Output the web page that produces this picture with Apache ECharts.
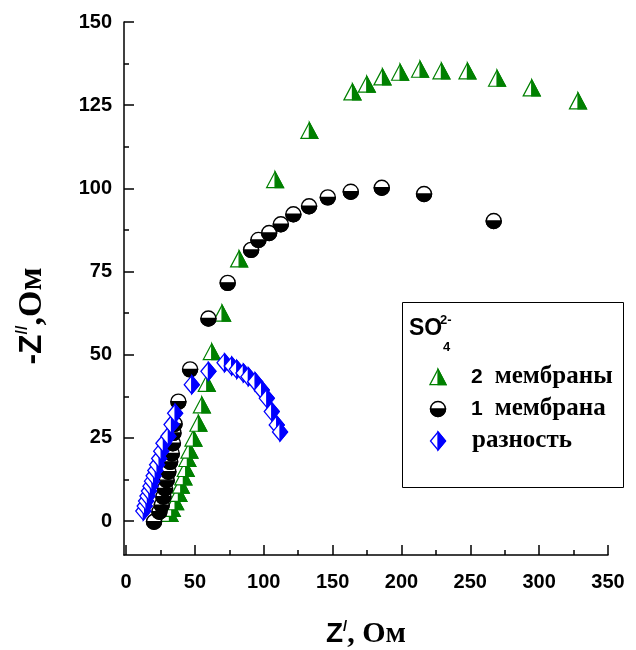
<!DOCTYPE html>
<html>
<head>
<meta charset="utf-8">
<script src="https://cdn.jsdelivr.net/npm/echarts@6/dist/echarts.min.js"></script>
<style>
  html, body { margin: 0; padding: 0; background: #fff; }
  #chart { width: 636px; height: 650px; }
</style>
</head>
<body>
<div id="chart"></div>
<script>
// Impedance spectra (Nyquist plot) for SO4(2-): Z' vs -Z'' in Ohm

// 2 membranes
const mem2Re = [31.5, 33.2, 35.6, 38.0, 39.7, 41.6, 43.3, 44.5, 46.0, 48.9, 52.5, 55.0, 58.6, 62.2,
                69.7, 82.1, 108.2, 133.1, 164.4, 174.8, 186.2, 199.0, 213.5, 229.0, 247.9, 269.4, 294.6, 328.2];
const mem2Im = [2.3, 3.8, 5.8, 8.3, 10.8, 13.3, 15.8, 18.8, 21.3, 24.9, 29.4, 34.9, 41.4, 50.9,
                62.5, 78.8, 102.6, 117.4, 129.0, 131.3, 133.5, 134.9, 135.8, 135.3, 135.3, 133.1, 130.2, 126.3];

// 1 membrane
const mem1Re = [20.3, 24.2, 25.9, 27.1, 28.3, 29.5, 30.7, 32.0, 33.2, 34.0, 34.4, 35.2, 38.0, 46.5,
                59.8, 73.8, 90.8, 96.1, 103.9, 112.4, 121.5, 132.9, 146.5, 163.2, 185.7, 216.4, 267.0];
const mem1Im = [-0.2, 2.8, 4.8, 7.3, 9.8, 12.3, 14.8, 17.8, 20.3, 23.4, 26.5, 29.2, 35.9, 45.6,
                60.9, 71.6, 81.5, 84.5, 86.6, 89.2, 92.2, 94.6, 97.3, 99.0, 100.2, 98.3, 90.2];

// difference
const diffRe = [12.5, 13.5, 14.5, 15.5, 16.6, 17.7, 18.8, 20.0, 21.2, 22.5, 24.0, 25.5, 27.1, 30.7, 33.0,
                35.6, 47.7, 59.8, 71.5, 76.7, 80.4, 85.2, 88.8, 93.7, 98.5, 102.2, 105.8, 109.4, 111.8];
const diffIm = [3.0, 4.5, 6.0, 7.5, 9.0, 10.5, 12.0, 13.6, 15.2, 16.9, 18.8, 21.0, 23.4, 25.5, 29.0,
                32.4, 41.0, 45.0, 47.6, 46.6, 45.6, 44.5, 43.4, 41.9, 39.4, 36.9, 32.9, 28.9, 26.8];

const seriesNames = ['2 мембраны', '1 мембрана', 'разность'];

const xMajor = [0, 50, 100, 150, 200, 250, 300, 350];
const xMinor = [25, 75, 125, 175, 225, 275, 325];
const yMajor = [0, 25, 50, 75, 100, 125, 150];
const yMinor = [12.5, 37.5, 62.5, 87.5, 112.5, 137.5];

const SANS = '"Liberation Sans", Arial, sans-serif';
const SERIF = '"Liberation Serif", "Times New Roman", serif';
const GREEN = '#008000';
const BLUE = '#0000ff';
const BLACK = '#000000';

function zip(a, b) { return a.map((v, i) => [v, b[i]]); }

// Half-filled marker shapes (outline with white fill, then one filled half)
function triangleMark(cx, cy, k) {
  const w = 8.5 * k, h = 8 * k;
  return [
    { type: 'polygon', shape: { points: [[cx - w, cy + h], [cx, cy - h], [cx + w, cy + h]] },
      style: { fill: '#fff', stroke: GREEN, lineWidth: 1.2 } },
    { type: 'polygon', shape: { points: [[cx, cy - h], [cx + w, cy + h], [cx, cy + h]] },
      style: { fill: GREEN, stroke: GREEN, lineWidth: 1.2 } }
  ];
}
function circleMark(cx, cy, k) {
  const r = 7.5 * k;
  return [
    { type: 'circle', shape: { cx: cx, cy: cy, r: r },
      style: { fill: '#fff', stroke: BLACK, lineWidth: 1.4 } },
    { type: 'sector', shape: { cx: cx, cy: cy, r0: 0, r: r, startAngle: 0, endAngle: Math.PI, clockwise: true },
      style: { fill: BLACK, stroke: BLACK, lineWidth: 1.4 } }
  ];
}
function diamondMark(cx, cy, k) {
  const w = 7.5 * k, h = 9 * k;
  return [
    { type: 'polygon', shape: { points: [[cx, cy - h], [cx + w, cy], [cx, cy + h], [cx - w, cy]] },
      style: { fill: '#fff', stroke: BLUE, lineWidth: 1.3 } },
    { type: 'polygon', shape: { points: [[cx, cy - h], [cx + w, cy], [cx, cy + h]] },
      style: { fill: BLUE, stroke: BLUE, lineWidth: 1.3 } }
  ];
}

function markerSeries(name, data, shapeFn) {
  return {
    type: 'custom',
    name: name,
    coordinateSystem: 'cartesian2d',
    xAxisIndex: 0,
    yAxisIndex: 0,
    encode: { x: 0, y: 1 },
    data: data,
    clip: false,
    renderItem: function (params, api) {
      const p = api.coord([api.value(0), api.value(1)]);
      return { type: 'group', children: shapeFn(p[0], p[1], 1) };
    }
  };
}

function onTop(items, z) { return items.map(el => Object.assign({ z: z }, el)); }

const tickStyle = { color: BLACK, width: 1.5 };
const labelStyle = { fontFamily: SANS, fontWeight: 'bold', fontSize: 20, color: BLACK };

// Legend box drawn as graphic elements
const legendX = 438, legendRows = [377, 409, 441], legendTextX = 471;
const legendRich = {
  n: { fontFamily: SANS, fontWeight: 'bold', fontSize: 21, color: BLACK, padding: [0, 12, 0, 0] },
  t: { fontFamily: SERIF, fontWeight: 'bold', fontSize: 25, color: BLACK }
};
const overlay = [
  { type: 'rect', shape: { x: 402.5, y: 302.5, width: 221, height: 185 },
    style: { fill: '#fff', stroke: BLACK, lineWidth: 1 }, z: 10 },
  { type: 'text', x: 409, y: 329, z: 11,
    style: { text: 'SO', font: 'bold 23px ' + SANS, fill: BLACK, verticalAlign: 'middle' } },
  { type: 'text', x: 440, y: 320, z: 11,
    style: { text: '2-', font: 'bold 13px ' + SANS, fill: BLACK, verticalAlign: 'middle' } },
  { type: 'text', x: 443, y: 347, z: 11,
    style: { text: '4', font: 'bold 13px ' + SANS, fill: BLACK, verticalAlign: 'middle' } }
]
  .concat(onTop(triangleMark(legendX, legendRows[0], 0.95), 12))
  .concat(onTop(circleMark(legendX, legendRows[1], 1), 12))
  .concat(onTop(diamondMark(legendX, legendRows[2], 1), 12))
  .concat([
    { type: 'text', x: legendTextX, y: legendRows[0], z: 11,
      style: { text: '{n|2}{t|мембраны}', rich: legendRich, verticalAlign: 'middle' } },
    { type: 'text', x: legendTextX, y: legendRows[1], z: 11,
      style: { text: '{n|1}{t|мембрана}', rich: legendRich, verticalAlign: 'middle' } },
    { type: 'text', x: legendTextX + 1, y: legendRows[2], z: 11,
      style: { text: '{t|разность}', rich: legendRich, verticalAlign: 'middle' } }
  ]);

// Rotated y-axis title
overlay.push({
  type: 'text', x: 32, y: 316, rotation: Math.PI / 2, z: 11,
  style: {
    text: '{a|-Z}{b|//}{c|,Ом}',
    align: 'center', verticalAlign: 'middle',
    rich: {
      a: { fontFamily: SANS, fontWeight: 'bold', fontSize: 32, color: BLACK },
      b: { fontFamily: SANS, fontWeight: 'bold', fontSize: 16, color: BLACK, verticalAlign: 'top' },
      c: { fontFamily: SERIF, fontWeight: 'bold', fontSize: 34, color: BLACK }
    }
  }
});

const chart = echarts.init(document.getElementById('chart'), null, { renderer: 'canvas' });
chart.setOption({
  animation: false,
  backgroundColor: '#fff',
  grid: { left: 124, right: 28, top: 22, bottom: 95, containLabel: false, outerBoundsMode: 'none' },
  xAxis: [
    {
      type: 'value', min: -1.5, max: 350, position: 'bottom',
      axisLine: { onZero: false, lineStyle: tickStyle },
      axisTick: { inside: true, length: 10, customValues: xMajor, lineStyle: tickStyle },
      axisLabel: Object.assign({ customValues: xMajor, margin: 17 }, labelStyle),
      splitLine: { show: false },
      name: '{z|Z}{p|/}{o|, Ом}',
      nameLocation: 'middle',
      nameGap: 64,
      nameTextStyle: {
        rich: {
          z: { fontFamily: SANS, fontWeight: 'bold', fontSize: 28, color: BLACK },
          p: { fontFamily: SANS, fontWeight: 'bold', fontSize: 15, color: BLACK, verticalAlign: 'top' },
          o: { fontFamily: SERIF, fontWeight: 'bold', fontSize: 30, color: BLACK }
        }
      }
    },
    {
      type: 'value', min: -1.5, max: 350, position: 'bottom',
      axisLine: { show: false, onZero: false },
      axisTick: { inside: true, length: 5, customValues: xMinor, lineStyle: tickStyle },
      axisLabel: { show: false },
      splitLine: { show: false }
    }
  ],
  yAxis: [
    {
      type: 'value', min: -10.2, max: 150, position: 'left',
      axisLine: { onZero: false, lineStyle: tickStyle },
      axisTick: { inside: true, length: 10, customValues: yMajor, lineStyle: tickStyle },
      axisLabel: Object.assign({ customValues: yMajor, margin: 12 }, labelStyle),
      splitLine: { show: false }
    },
    {
      type: 'value', min: -10.2, max: 150, position: 'left',
      axisLine: { show: false, onZero: false },
      axisTick: { inside: true, length: 5, customValues: yMinor, lineStyle: tickStyle },
      axisLabel: { show: false },
      splitLine: { show: false }
    }
  ],
  series: [
    markerSeries(seriesNames[0], zip(mem2Re, mem2Im), triangleMark),
    markerSeries(seriesNames[1], zip(mem1Re, mem1Im), circleMark),
    markerSeries(seriesNames[2], zip(diffRe, diffIm), diamondMark)
  ],
  graphic: overlay
});
</script>
</body>
</html>
